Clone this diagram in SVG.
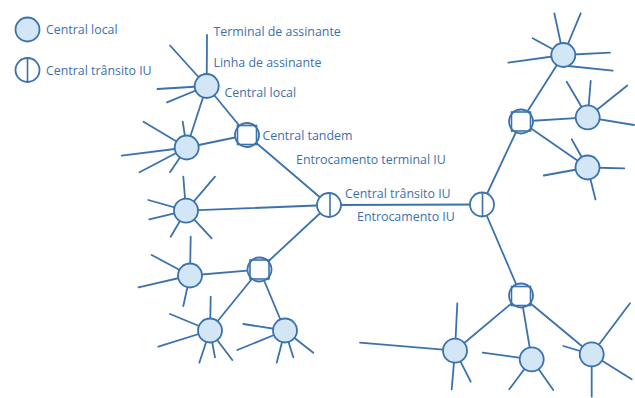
<svg xmlns="http://www.w3.org/2000/svg" width="635" height="398" viewBox="0 0 635 398">
<style>
.ln{stroke:#3b72ad;stroke-width:1.8;fill:none;stroke-linecap:round}
.loc{fill:#d3e6f5;stroke:#3b72ad;stroke-width:1.8}
.sw{fill:#ffffff;stroke:#3b72ad;stroke-width:1.8}
.in{fill:none;stroke:#3b72ad;stroke-width:1.6}
text{font-family:"Open Sans","Noto Sans","Liberation Sans",sans-serif;font-size:12.4px;fill:#3d70ab}
</style>
<rect width="635" height="398" fill="#ffffff"/>
<g id="legend">
<circle class="loc" cx="27.5" cy="29.5" r="12"/>
<text x="46" y="34">Central local</text>
<circle class="sw" cx="27.5" cy="70" r="12"/>
<line class="in" x1="27.5" y1="58" x2="27.5" y2="82"/>
<text x="46" y="75">Central trânsito IU</text>
</g>
<g id="connectors" class="ln">
<line x1="206.7" y1="86" x2="186.7" y2="147.5"/>
<line x1="206.7" y1="86" x2="247" y2="135"/>
<line x1="186.7" y1="147.5" x2="247" y2="135"/>
<line x1="247" y1="135" x2="329" y2="205"/>
<line x1="186" y1="210.7" x2="329" y2="205"/>
<line x1="329" y1="205" x2="259.5" y2="269.5"/>
<line x1="190" y1="275.5" x2="259.5" y2="269.5"/>
<line x1="259.5" y1="269.5" x2="210" y2="330.5"/>
<line x1="259.5" y1="269.5" x2="285" y2="330.5"/>
<line x1="329" y1="205" x2="482" y2="204.5"/>
<line x1="482" y1="204.5" x2="521" y2="121.5"/>
<line x1="482" y1="204.5" x2="521" y2="295.5"/>
<line x1="521" y1="121.5" x2="563.3" y2="55"/>
<line x1="521" y1="121.5" x2="587.7" y2="117.3"/>
<line x1="521" y1="121.5" x2="587.5" y2="167.5"/>
<line x1="521" y1="295.5" x2="455" y2="350.7"/>
<line x1="521" y1="295.5" x2="531.7" y2="359.3"/>
<line x1="521" y1="295.5" x2="591.7" y2="354.3"/>
</g>
<g id="local-top">
<g class="ln">
<line x1="206.7" y1="86" x2="207" y2="35"/>
<line x1="206.7" y1="86" x2="170" y2="45.5"/>
<line x1="206.7" y1="86" x2="157.5" y2="89"/>
<line x1="206.7" y1="86" x2="167" y2="102.3"/>
</g>
<circle class="loc" cx="206.7" cy="86" r="12"/>
<text x="213.5" y="36">Terminal de assinante</text>
<text x="213.5" y="67">Linha de assinante</text>
<text x="224.5" y="96.5">Central local</text>
</g>
<g id="local-b">
<g class="ln">
<line x1="186.7" y1="147.5" x2="143.5" y2="121.7"/>
<line x1="186.7" y1="147.5" x2="182.7" y2="121.7"/>
<line x1="186.7" y1="147.5" x2="121.7" y2="155.7"/>
<line x1="186.7" y1="147.5" x2="139.5" y2="172.3"/>
<line x1="186.7" y1="147.5" x2="170" y2="172.3"/>
</g>
<circle class="loc" cx="186.7" cy="147.5" r="12"/>
</g>
<g id="tandem-1">
<circle class="sw" cx="247" cy="135" r="12"/>
<rect class="in" x="237.5" y="125.5" width="19" height="19"/>
<text x="262.5" y="139.5">Central tandem</text>
<text x="296" y="164">Entrocamento terminal IU</text>
</g>
<g id="local-c">
<g class="ln">
<line x1="186" y1="210.7" x2="183.3" y2="176.7"/>
<line x1="186" y1="210.7" x2="215" y2="176.7"/>
<line x1="186" y1="210.7" x2="148.3" y2="200"/>
<line x1="186" y1="210.7" x2="149.3" y2="219.3"/>
<line x1="186" y1="210.7" x2="170.7" y2="236.7"/>
<line x1="186" y1="210.7" x2="211.7" y2="238.3"/>
</g>
<circle class="loc" cx="186" cy="210.7" r="12"/>
</g>
<g id="transit-1">
<circle class="sw" cx="329" cy="205" r="12"/>
<line class="in" x1="330" y1="193" x2="330" y2="217"/>
<text x="345" y="197.5">Central trânsito IU</text>
<text x="357" y="221">Entrocamento IU</text>
</g>
<g id="local-d">
<g class="ln">
<line x1="190" y1="275.5" x2="190.7" y2="236.7"/>
<line x1="190" y1="275.5" x2="151.7" y2="255"/>
<line x1="190" y1="275.5" x2="138.5" y2="287.3"/>
<line x1="190" y1="275.5" x2="183.3" y2="306"/>
</g>
<circle class="loc" cx="190" cy="275.5" r="12"/>
</g>
<g id="tandem-2">
<circle class="sw" cx="259.5" cy="269.5" r="12"/>
<rect class="in" x="250" y="260" width="19" height="19"/>
</g>
<g id="local-e">
<g class="ln">
<line x1="210" y1="330.5" x2="210.7" y2="296.7"/>
<line x1="210" y1="330.5" x2="170" y2="314"/>
<line x1="210" y1="330.5" x2="158.3" y2="346.7"/>
<line x1="210" y1="330.5" x2="199.3" y2="362.7"/>
<line x1="210" y1="330.5" x2="215" y2="357.3"/>
<line x1="210" y1="330.5" x2="232.3" y2="360"/>
</g>
<circle class="loc" cx="210" cy="330.5" r="12"/>
</g>
<g id="local-f">
<g class="ln">
<line x1="285" y1="330.5" x2="243.3" y2="324"/>
<line x1="285" y1="330.5" x2="237.3" y2="350"/>
<line x1="285" y1="330.5" x2="276.7" y2="362.7"/>
<line x1="285" y1="330.5" x2="293.3" y2="357.3"/>
<line x1="285" y1="330.5" x2="313.3" y2="352.7"/>
</g>
<circle class="loc" cx="285" cy="330.5" r="12"/>
</g>
<g id="transit-2">
<circle class="sw" cx="482" cy="204.5" r="12"/>
<line class="in" x1="482.5" y1="192.5" x2="482.5" y2="216.5"/>
</g>
<g id="tandem-3">
<circle class="sw" cx="521" cy="121.5" r="12"/>
<rect class="in" x="511.5" y="112" width="19" height="19"/>
</g>
<g id="local-g">
<g class="ln">
<line x1="563.3" y1="55" x2="554.3" y2="13.3"/>
<line x1="563.3" y1="55" x2="580.7" y2="13.3"/>
<line x1="563.3" y1="55" x2="532.7" y2="38.3"/>
<line x1="563.3" y1="55" x2="508.3" y2="62.7"/>
<line x1="563.3" y1="55" x2="610" y2="52.7"/>
<line x1="568" y1="66" x2="612.7" y2="70.7"/>
</g>
<circle class="loc" cx="563.3" cy="55" r="12"/>
</g>
<g id="local-h">
<g class="ln">
<line x1="587.7" y1="117.3" x2="566.7" y2="81.7"/>
<line x1="587.7" y1="117.3" x2="590.7" y2="81"/>
<line x1="587.7" y1="117.3" x2="627.3" y2="85.5"/>
<line x1="587.7" y1="117.3" x2="634" y2="125"/>
</g>
<circle class="loc" cx="587.7" cy="117.3" r="12"/>
</g>
<g id="local-i">
<g class="ln">
<line x1="587.5" y1="167.5" x2="571.7" y2="139.3"/>
<line x1="587.5" y1="167.5" x2="543.8" y2="175.5"/>
<line x1="587.5" y1="167.5" x2="624.3" y2="168.3"/>
<line x1="587.5" y1="167.5" x2="595.5" y2="199.5"/>
</g>
<circle class="loc" cx="587.5" cy="167.5" r="12"/>
</g>
<g id="tandem-4">
<circle class="sw" cx="521" cy="295.5" r="12"/>
<rect class="in" x="511.5" y="286.5" width="19" height="19"/>
</g>
<g id="local-j">
<g class="ln">
<line x1="455" y1="350.7" x2="457.3" y2="303.3"/>
<line x1="455" y1="350.7" x2="360" y2="342.7"/>
<line x1="455" y1="350.7" x2="451.7" y2="389.3"/>
<line x1="455" y1="350.7" x2="470.7" y2="381.7"/>
</g>
<circle class="loc" cx="455" cy="350.7" r="12"/>
</g>
<g id="local-k">
<g class="ln">
<line x1="531.7" y1="359.3" x2="482.7" y2="352.7"/>
<line x1="531.7" y1="359.3" x2="509.3" y2="389.3"/>
<line x1="531.7" y1="359.3" x2="553.3" y2="390"/>
</g>
<circle class="loc" cx="531.7" cy="359.3" r="12"/>
</g>
<g id="local-l">
<g class="ln">
<line x1="591.7" y1="354.3" x2="563.3" y2="346"/>
<line x1="591.7" y1="354.3" x2="630" y2="303.3"/>
<line x1="591.7" y1="354.3" x2="591.7" y2="396.7"/>
<line x1="591.7" y1="354.3" x2="631.7" y2="379.3"/>
</g>
<circle class="loc" cx="591.7" cy="354.3" r="12"/>
</g>
</svg>
